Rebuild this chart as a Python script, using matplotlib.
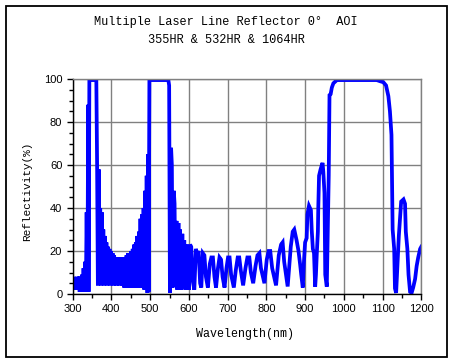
import matplotlib
matplotlib.use("Agg")
import matplotlib.pyplot as plt
from matplotlib.patches import Rectangle
from matplotlib.ticker import MultipleLocator

# 300-500 nm: UV band edge and dense ripple
uv_wl = [300, 302, 304, 306, 308, 310, 312, 314, 316, 318, 320, 322, 324, 326, 328,
         330, 332, 334, 336, 338, 340, 341, 343, 361, 363, 365,
         367, 369, 371, 373, 375, 377, 379, 381, 383, 385, 387, 389, 391, 393, 395,
         397, 399, 401, 403, 405, 407, 409, 411, 413, 415, 417, 419, 421, 423, 425,
         427, 429, 431, 433, 435, 437, 439, 441, 443, 445, 447, 449, 451, 453, 455,
         457, 459, 461, 463, 465, 467, 469, 471, 473, 475, 477, 479, 481, 483, 485,
         487, 489, 491, 493, 495, 496, 498]
uv_r = [7, 2, 8, 3, 7, 2, 8, 3, 8, 1, 8, 1, 9, 1, 12,
        1, 15, 2, 38, 1, 88, 1, 99.5, 99.5, 60, 4,
        58, 5, 40, 4, 38, 5, 30, 4, 27, 5, 24, 4, 22, 5, 21,
        4, 20, 5, 19, 4, 18, 5, 17, 4, 17, 5, 17, 4, 17, 5,
        17, 4, 17, 3, 17, 4, 18, 3, 19, 4, 19, 3, 20, 4, 21,
        3, 23, 4, 24, 3, 27, 3, 29, 4, 35, 3, 37, 3, 40, 2,
        48, 2, 55, 0.5, 65, 1, 99.5]

# 500-900 nm: 532 band and ripple
vis_wl = [547, 549, 551, 554, 556, 558, 561, 563, 565, 568, 570, 573, 575, 577, 580,
          583, 585, 588, 591, 594, 597, 600, 603, 606, 610, 614, 618, 622, 625, 629,
          632, 636, 640, 644, 649, 654, 658, 662, 666, 670, 675, 679, 683, 687, 692,
          697, 701, 705, 709, 716, 721, 726, 730, 734, 740, 746, 751, 756, 760, 766,
          772, 777, 782, 786, 795, 801, 806, 810, 815, 825, 832, 838, 842, 846, 855,
          863, 868, 872, 878, 883, 887, 890, 894, 897]
vis_r = [99.5, 97, 0.5, 68, 60, 3, 48, 42, 5, 34, 2, 33, 10, 30, 2,
         28, 12, 25, 2, 23, 10, 2, 23, 22, 6, 2, 21, 18, 20, 5,
         3, 19, 18, 8, 3, 14, 17, 17, 8, 3, 12, 17, 16, 8, 3,
         12, 17, 17, 9, 3, 11, 17, 17, 11, 4, 12, 17, 17, 10, 5,
         13, 18, 19, 12, 5, 16, 20, 20, 12, 4, 18, 23, 24, 15, 3.5,
         22, 29, 30, 25, 20, 14, 9, 3, 15]

# 900-1200 nm: 1064 band
ir_wl = [900, 904, 906, 910, 915, 917, 920, 923, 926, 928, 930, 933, 934, 936, 940,
         945, 947, 950, 952, 956, 958, 961, 963, 966, 969, 973, 982, 1085, 1093, 1102,
         1109, 1115, 1119, 1123, 1124, 1126, 1130, 1132, 1135, 1138, 1142, 1145, 1148,
         1154, 1158, 1160, 1164, 1167, 1171, 1175, 1179, 1184, 1188, 1192, 1197, 1200]
ir_r = [24, 26, 37, 41, 39, 30, 21, 19, 3.4, 9, 18, 29, 40, 55, 58,
        61, 57, 47, 9, 3.4, 24, 55, 92.5, 93, 96, 98, 99.5, 99.5, 99, 98.5,
        97, 92, 85, 74, 58, 30, 21, 2.6, 0.5, 12, 27, 35, 43,
        44, 42, 29, 21, 9, 1, 0.5, 3, 7, 13, 17, 21, 22]

wl = uv_wl + vis_wl + ir_wl
refl = uv_r + vis_r + ir_r

W, H = 453, 362
fig = plt.figure(figsize=(W / 100, H / 100), dpi=100)
fig.patch.set_facecolor("white")

# outer frame
fig.patches.append(Rectangle((6 / W, 1 - 357 / H), 441 / W, 351 / H, transform=fig.transFigure,
                             fill=False, edgecolor="black", linewidth=1.3))

ax = fig.add_axes([72.7 / W, 1 - 294 / H, 348.6 / W, 215 / H])
ax.plot(wl, refl, color="#0000ff", linewidth=2.7, solid_joinstyle="miter")

ax.set_xlim(300, 1200)
ax.set_ylim(0, 100)
ax.xaxis.set_major_locator(MultipleLocator(100))
ax.xaxis.set_minor_locator(MultipleLocator(50))
ax.yaxis.set_major_locator(MultipleLocator(20))
ax.yaxis.set_minor_locator(MultipleLocator(5))
ax.grid(True, which="major", color="#808080", linewidth=1.0)
ax.set_axisbelow(True)
for s in ["top", "right"]:
    ax.spines[s].set_color("#808080")
    ax.spines[s].set_linewidth(1.0)
for s in ["left", "bottom"]:
    ax.spines[s].set_color("black")
    ax.spines[s].set_linewidth(1.0)
ax.tick_params(which="major", direction="out", length=4.5, width=1, colors="black",
               labelsize=8, pad=3)
ax.tick_params(which="minor", direction="out", length=3, width=1, colors="black")
for lab in ax.get_xticklabels() + ax.get_yticklabels():
    lab.set_family("Liberation Sans")

mono = "Liberation Mono"
fig.text(226 / W, 1 - 22 / H, "Multiple Laser Line Reflector 0°  AOI", ha="center", va="center",
         family=mono, fontsize=8.6)
fig.text(226 / W, 1 - 40 / H, "355HR & 532HR & 1064HR", ha="center", va="center",
         family=mono, fontsize=8.6)
fig.text(245 / W, 1 - 334 / H, "Wavelength(nm)", ha="center", va="center",
         family=mono, fontsize=8.4)
fig.text(27.5 / W, 1 - 191 / H, "Reflectivity(%)", ha="center", va="center",
         rotation=90, family=mono, fontsize=8.0)

fig.savefig("out.png", dpi=100)
